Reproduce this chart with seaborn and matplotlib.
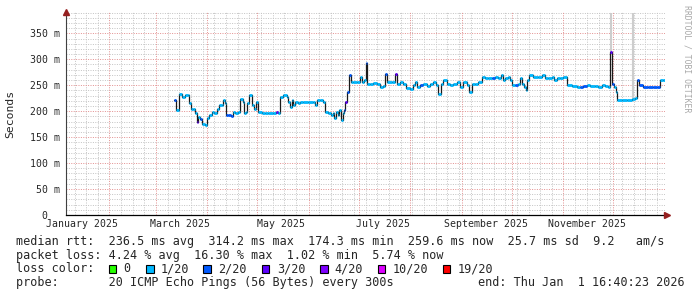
import numpy as np
import pandas as pd
import matplotlib
matplotlib.use("Agg")
import matplotlib.pyplot as plt
from matplotlib.patches import Rectangle
import seaborn as sns

# ---------------- data ----------------
# day offset from 2025-01-01 00:00
days = [70.1, 71.1, 73.3, 74.7, 76.7, 78.7, 79.3, 80.1, 81.3, 82.7,
        83.7, 84.7, 85.7, 86.7, 88.7, 89.7, 91.3, 92.7, 94.1, 95.7,
        97.3, 98.8, 99.7, 100.7, 101.3, 102.7, 104.2, 105.4, 106.7, 108.4,
        109.8, 111.4, 112.2, 113.4, 114.1, 115.3, 116.8, 118.2, 119.4, 120.8,
        122.8, 124.8, 126.8, 129.8, 131.2, 132.8, 133.8, 135.8, 137.8, 138.8,
        139.8, 140.8, 141.8, 142.8, 144.4, 145.8, 147.8, 150.8, 153.8, 154.8,
        155.9, 157.8, 159.8, 160.8, 162.8, 164.5, 165.5, 166.4, 167.5, 168.5,
        169.4, 170.5, 171.5, 172.4, 173.0, 174.2, 175.2, 176.4, 177.9, 179.9,
        181.9, 182.9, 184.5, 185.3, 186.3, 187.9, 189.9, 191.9, 193.9, 195.9,
        196.9, 198.3, 200.9, 202.9, 203.9, 205.9, 207.9, 209.5, 211.9, 213.9,
        214.9, 216.3, 217.9, 219.9, 221.9, 223.9, 225.9, 227.6, 228.9, 230.4,
        231.9, 234.0, 236.0, 238.0, 240.0, 242.0, 244.0, 246.0, 247.6, 249.0,
        251.0, 253.0, 255.0, 257.0, 259.0, 261.0, 263.0, 265.0, 266.5, 267.7,
        269.0, 271.0, 272.0, 273.1, 275.0, 277.0, 278.1, 279.1, 280.5, 281.7,
        282.4, 283.6, 286.0, 289.0, 291.1, 293.1, 295.1, 297.1, 298.5, 300.1,
        302.1, 304.1, 306.1, 306.5, 309.1, 312.1, 314.1, 316.1, 318.1, 320.1,
        323.1, 325.1, 327.2, 329.1, 331.1, 332.2, 333.2, 334.6, 335.8, 336.5,
        339.2, 342.2, 345.2, 347.2, 348.2, 349.8, 352.2, 355.2, 358.2, 360.2,
        362.2, 364.2]

# median rtt in milliseconds
rtt_ms = [221, 202, 234, 228, 231, 231, 215, 205, 205, 196,
          179, 189, 184, 176, 173, 186, 192, 199, 196, 205,
          212, 212, 221, 215, 192, 192, 190, 199, 196, 198,
          224, 218, 196, 199, 215, 231, 212, 205, 218, 199,
          196, 196, 197, 196, 199, 196, 228, 231, 228, 218,
          208, 221, 212, 218, 215, 218, 218, 218, 218, 212,
          221, 221, 218, 199, 196, 192, 196, 186, 199, 192,
          202, 183, 196, 202, 218, 237, 269, 256, 256, 256,
          266, 256, 260, 292, 253, 253, 254, 253, 247, 248,
          272, 256, 256, 272, 253, 256, 253, 244, 242, 250,
          256, 247, 250, 253, 248, 253, 256, 250, 234, 253,
          260, 253, 250, 253, 256, 247, 256, 250, 237, 253,
          253, 256, 266, 263, 263, 263, 266, 263, 269, 260,
          263, 266, 260, 250, 250, 253, 263, 253, 247, 240,
          260, 269, 266, 266, 269, 263, 263, 266, 260, 263,
          263, 266, 263, 250, 248, 247, 246, 248, 250, 248,
          248, 247, 251, 248, 246, 314, 253, 247, 237, 222,
          222, 222, 224, 226, 261, 250, 246, 246, 246, 247,
          261, 260]

# loss category index (1 -> 1/20, 2 -> 2/20, 3 -> 3/20)
loss = [2, 1, 1, 1, 1, 1, 1, 1, 1, 1,
        3, 1, 2, 1, 1, 1, 1, 1, 1, 1,
        1, 1, 1, 1, 2, 2, 2, 1, 1, 1,
        1, 1, 1, 1, 1, 1, 1, 1, 1, 1,
        1, 1, 1, 1, 3, 1, 1, 1, 1, 1,
        1, 1, 1, 1, 1, 1, 1, 1, 1, 1,
        1, 1, 1, 1, 1, 1, 1, 1, 1, 1,
        1, 1, 1, 2, 3, 2, 2, 1, 1, 1,
        1, 1, 1, 2, 1, 1, 1, 1, 1, 1,
        2, 1, 1, 3, 1, 1, 1, 1, 1, 1,
        1, 1, 2, 1, 1, 1, 1, 1, 1, 1,
        1, 1, 1, 1, 1, 1, 1, 1, 1, 1,
        1, 1, 1, 1, 1, 2, 1, 1, 1, 1,
        1, 1, 1, 1, 2, 1, 1, 1, 1, 1,
        1, 1, 1, 1, 1, 1, 1, 1, 1, 1,
        1, 1, 1, 1, 1, 1, 2, 2, 1, 1,
        1, 1, 1, 1, 1, 3, 2, 1, 1, 1,
        1, 1, 1, 1, 2, 2, 2, 2, 2, 2,
        1, 1]

# smoke spikes (max ping outliers)
spike_days = [332.6, 346.1]
spike_top_ms = [390, 390]

loss_labels = ["0", "1/20", "2/20", "3/20", "4/20", "10/20", "19/20"]
loss_colors = ["#26ff00", "#00b8ff", "#0059ff", "#5e00ff", "#7e00ff", "#dd00ff", "#ff0000"]

month_labels = ["January 2025", "March 2025", "May 2025", "July 2025",
                "September 2025", "November 2025"]
ytick_vals = [0, 50, 100, 150, 200, 250, 300, 350]
ytick_labels = ["0  ", "50 m", "100 m", "150 m", "200 m", "250 m", "300 m", "350 m"]

legend_lines = [
    "median rtt:  236.5 ms avg  314.2 ms max  174.3 ms min  259.6 ms now  25.7 ms sd  9.2   am/s",
    "packet loss: 4.24 % avg  16.30 % max  1.02 % min  5.74 % now",
]
probe_text = "probe:       20 ICMP Echo Pings (56 Bytes) every 300s"
end_text = "end: Thu Jan  1 16:40:23 2026"

# ---------------- figure ----------------
sns.set_style("white")
plt.rcParams["font.family"] = ["DejaVu Sans Mono"]

W, H = 697, 297
fig = plt.figure(figsize=(W / 100, H / 100), dpi=100)
fig.patch.set_facecolor("white")

X0, X1 = 66, 665
YB = 215
px_per_ms = 0.5191
ytop = 391
ax = fig.add_axes([X0 / W, (H - YB) / H, (X1 - X0) / W, ytop * px_per_ms / H])
ax.set_facecolor("white")

base = pd.Timestamp("2025-01-01")
xmin, xmax = 5.17, 365.2
ax.set_xlim(xmin, xmax)
ax.set_ylim(0, ytop)

# grid
grid_lw = 0.72
minor_c = "#c6c6c6"
major_c = "#e49494"
dots = (0, (1, 1.4))
for v in range(10, 400, 10):
    if v % 50 != 0:
        ax.axhline(v, color=minor_c, lw=grid_lw, ls=dots, zorder=0.5)
month_starts = pd.date_range("2025-02-01", "2026-01-01", freq="MS")
month_off = np.array([(m - base).days for m in month_starts])
week = np.arange(10.3, xmax + 0.1, 7.0)
for d in week:
    if np.min(np.abs(month_off - d)) > 1.0:
        ax.axvline(d, color=minor_c, lw=grid_lw, ls=dots, zorder=0.5)
for v in range(50, 400, 50):
    ax.axhline(v, color=major_c, lw=grid_lw, ls=dots, zorder=0.6)
for d in month_off:
    ax.axvline(d, color=major_c, lw=grid_lw, ls=dots, zorder=0.6)

df = pd.DataFrame({"day": days, "rtt": rtt_ms, "loss": loss})

# smoke spikes
for d, t in zip(spike_days, spike_top_ms):
    v = df.loc[(df["day"] - d).abs().idxmin(), "rtt"]
    ax.vlines(d, v, t, color="#cdcdcd", lw=1.5, zorder=1)

# median step line (black verticals)
sns.lineplot(data=df, x="day", y="rtt", ax=ax, color="#1a1a1a", lw=0.9,
             drawstyle="steps-post", estimator=None, sort=True, zorder=2)
ax.hlines(df["rtt"].iloc[-1], df["day"].iloc[-1], xmax, color="#1a1a1a", lw=0.9, zorder=2)

# loss-coloured horizontal segments
starts = df["day"].to_numpy()
ends = np.append(starts[1:], xmax)
seg_cols = [loss_colors[k] for k in df["loss"]]
ax.hlines(df["rtt"], starts, ends, colors=seg_cols, lw=2.0, zorder=3)

# axes styling
for s in ["top", "right"]:
    ax.spines[s].set_visible(False)
ax.spines["left"].set_color("#404040")
ax.spines["left"].set_linewidth(0.8)
ax.spines["bottom"].set_color("black")
ax.spines["bottom"].set_linewidth(0.9)
ax.set_xlabel("")
ax.set_ylabel("")

label_pos = []
for lab in month_labels:
    mstart = pd.to_datetime(lab, format="%B %Y")
    label_pos.append((mstart - base).days + 14.5)
ax.set_xticks(label_pos)
ax.set_xticklabels(month_labels, fontsize=7.1)
ax.tick_params(axis="x", length=0, pad=3.0)

ax.set_yticks(ytick_vals)
ax.set_yticklabels(ytick_labels, fontsize=7.1)
ax.set_yticks(range(10, 390, 10), minor=True)
ax.tick_params(axis="y", which="major", direction="inout", length=4, width=0.7,
               color="#404040", pad=2.5)
ax.tick_params(axis="y", which="minor", direction="out", length=2, width=0.6,
               color="#808080")

# arrows
arrow_c = "#962020"
ax.plot([0], [1], marker="^", ms=5, color=arrow_c, transform=ax.transAxes, clip_on=False, zorder=5)
ax.plot([1.004], [0], marker=">", ms=5, color=arrow_c, transform=ax.transAxes, clip_on=False, zorder=5)

# y axis title
fig.text(10.7 / W, 1 - 114 / H, "Seconds", rotation=90, va="center", ha="center", fontsize=8.2)

# watermark
fig.text(686.5 / W, 1 - 5 / H, "RRDTOOL / TOBI OETIKER", rotation=-90, va="top", ha="center",
         fontsize=5.9, color="#a8a8a8")

# legend text
fs = 8.5
fig.text(16 / W, 1 - 241.5 / H, legend_lines[0], va="center", ha="left", fontsize=fs)
fig.text(16 / W, 1 - 255 / H, legend_lines[1], va="center", ha="left", fontsize=fs)
fig.text(16 / W, 1 - 269 / H, "loss color:", va="center", ha="left", fontsize=fs)
sq_x = [108.7, 146, 203.3, 261.7, 320, 377.7, 442.7]
lab_x = [123.3, 160.7, 218.3, 276.7, 334.3, 392.3, 457.3]
for sx, lx, col, lab in zip(sq_x, lab_x, loss_colors, loss_labels):
    fig.patches.append(Rectangle((sx / W, 1 - 273 / H), 7.5 / W, 8 / H, transform=fig.transFigure,
                                 facecolor=col, edgecolor="black", lw=0.8))
    fig.text(lx / W, 1 - 269 / H, lab, va="center", ha="left", fontsize=fs)
fig.text(16 / W, 1 - 282.7 / H, probe_text, va="center", ha="left", fontsize=fs)
fig.text(478.3 / W, 1 - 282.7 / H, end_text, va="center", ha="left", fontsize=fs)

fig.savefig("out.png", dpi=100, facecolor="white")
